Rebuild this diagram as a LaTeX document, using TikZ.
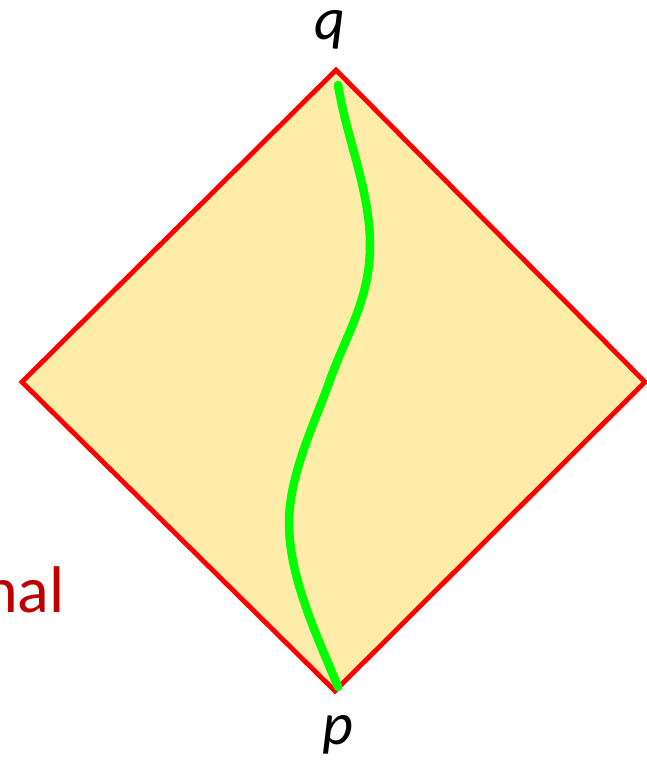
\documentclass[tikz,border=0pt]{standalone}
\usepackage{fontspec}
\setmainfont{Carlito}
\usetikzlibrary{positioning,calc}
\definecolor{cone}{HTML}{FFECA8}
\definecolor{conered}{HTML}{FF0000}
\definecolor{lblred}{HTML}{C00000}
\definecolor{curvegreen}{HTML}{00FF00}
\tikzset{
  edge/.style    = {draw=conered, line width=4.8pt, line join=miter, fill=cone},
  world/.style   = {draw=curvegreen, line width=8.5pt, line cap=round},
  ptlbl/.style   = {font=\fontsize{60}{64}\selectfont\itshape, inner sep=0pt, anchor=base},
  sidelbl/.style = {font=\fontsize{66}{70}\selectfont, text=lblred, inner sep=0pt,
                    anchor=base west},
}

\begin{document}
\begin{tikzpicture}[x=1pt,y=-1pt]
  \useasboundingbox (0,0) rectangle (646,761);
  \coordinate (top) at (336,70);
  \coordinate (bot) at (335,691);
  \coordinate (lft) at (22,382);
  \coordinate (rgt) at (645,382);
  \path[edge] (top)--(rgt)--(bot)--(lft)--cycle;
  % worldline from p to q
  \coordinate (w0) at (338,85);
  \coordinate (w1) at (370,245);
  \coordinate (w2) at (330,380);
  \coordinate (w3) at (289,523);
  \coordinate (w4) at (338,687);
  \draw[world] (w0) .. controls (347,140) and (370,190) .. (w1)
    .. controls (370,300) and (346,335) .. (w2)
    .. controls (314,425) and (289,475) .. (w3)
    .. controls (289,580) and (320,642) .. (w4);
  \node[ptlbl] (q) at (330,39) {q};
  \node[ptlbl] (p) at (338,744) {p};
  \node[sidelbl] (nal) at (-17,612) {nal};
\end{tikzpicture}
\end{document}
